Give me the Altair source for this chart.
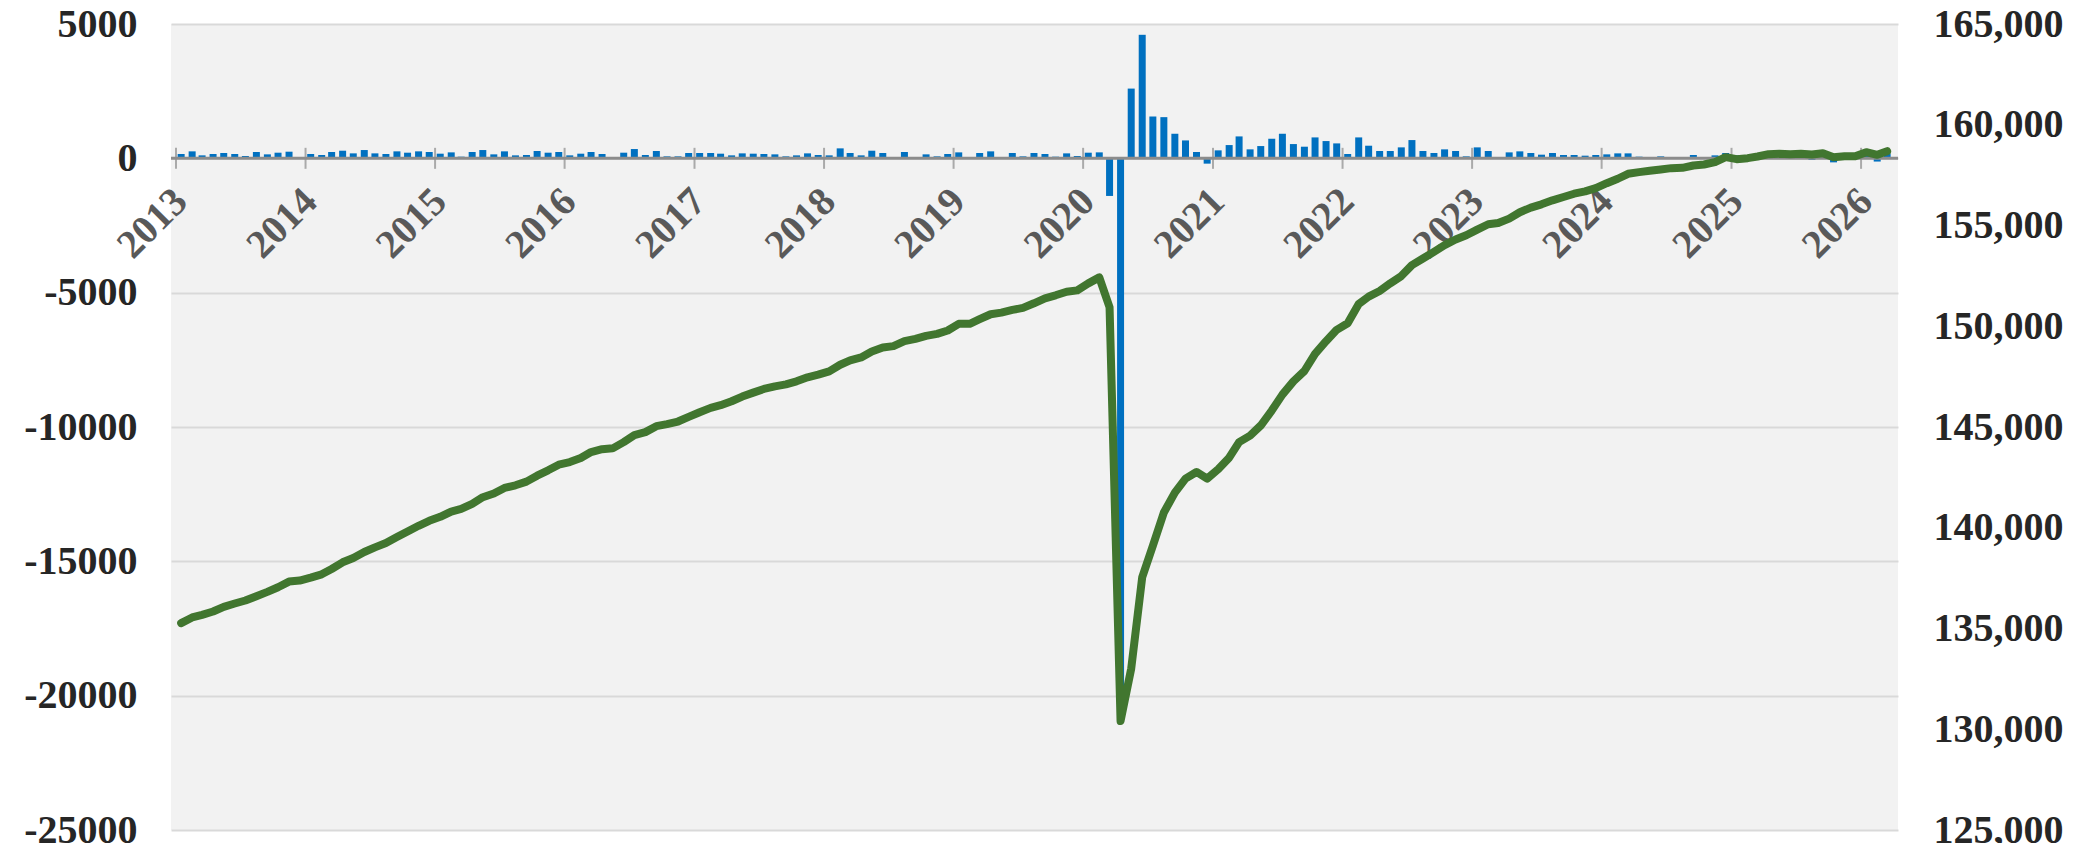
import altair as alt
import pandas as pd

years = list(range(2013, 2027))
month_starts = pd.date_range("2013-01-01", periods=159, freq="MS")
months = (month_starts + pd.Timedelta(days=14)).strftime("%Y-%m-%dT12:00:00Z").tolist()

# monthly change (thousands) - left axis
change = [
    161, 260, 111, 161, 198, 161, 87, 235, 148, 210, 247, 49,          # 2013
    161, 124, 235, 284, 185, 309, 185, 161, 260, 210, 260, 235,        # 2014
    173, 222, 62, 235, 309, 148, 260, 111, 124, 272, 210, 235,         # 2015
    111, 173, 235, 161, 25, 210, 346, 124, 272, 74, 74, 198,           # 2016
    198, 198, 173, 111, 185, 173, 161, 148, 74, 111, 185, 124,         # 2017
    111, 371, 198, 111, 284, 198, 37, 235, 49, 148, 74, 161,           # 2018
    222, 20, 198, 260, 10, 198, 74, 198, 161, 62, 185, 87,             # 2019
    210, 222, -1400, -20500, 2596, 4598, 1557, 1533, 915, 667, 235, -198,  # 2020
    297, 494, 816, 334, 457, 729, 915, 531, 433, 779, 643, 556,        # 2021
    161, 779, 470, 272, 272, 408, 680, 272, 198, 334, 272, 74,         # 2022
    408, 272, 49, 222, 260, 198, 136, 198, 124, 124, 99, 124,          # 2023
    148, 185, 185, 62, 49, 74, 37, 10, 124, 12, 111, 198,              # 2024
    110, 100, 120, 150, 20, -13, 70, -60, 100, -150, 60, 40,           # 2025
    130, -120, 170,                                                    # 2026
]

# employment level (thousands) - right axis
level = [
    135268, 135548, 135680, 135845, 136076, 136240, 136389, 136603, 136817, 137048, 137328, 137378,
    137526, 137690, 137954, 138284, 138498, 138795, 139026, 139240, 139537, 139817, 140097, 140344,
    140542, 140805, 140937, 141185, 141515, 141696, 141976, 142108, 142289, 142586, 142849, 143130,
    143261, 143459, 143756, 143900, 143940, 144250, 144596, 144745, 145041, 145140, 145272, 145503,
    145734, 145948, 146080, 146278, 146508, 146706, 146887, 147019, 147118, 147266, 147464, 147596,
    147761, 148090, 148305, 148453, 148750, 148948, 149014, 149261, 149376, 149524, 149623, 149788,
    150118, 150118, 150348, 150595, 150678, 150810, 150909, 151139, 151386, 151535, 151716, 151780,
    152128, 152425, 150942, 130406, 133010, 137542, 139108, 140757, 141746, 142438, 142768, 142438,
    142900, 143476, 144250, 144570, 145074, 145816, 146607, 147265, 147778, 148634, 149261, 149821,
    150151, 151106, 151469, 151749, 152128, 152491, 153035, 153364, 153694, 154024, 154304, 154518,
    154798, 155062, 155128, 155342, 155656, 155886, 156051, 156249, 156413, 156578, 156694, 156858,
    157100, 157320, 157567, 157650, 157715, 157781, 157847, 157864, 157979, 158029, 158144, 158391,
    158292, 158342, 158424, 158539, 158556, 158539, 158556, 158523, 158589, 158391, 158441, 158441,
    158638, 158506, 158688,
]

year_labels = [str(y) for y in years]
left_ticks = list(range(-25000, 5001, 5000))
right_ticks = list(range(125000, 165001, 5000))

df = pd.DataFrame({"date": months, "change": change, "level": level})
year_df = pd.DataFrame({
    "date": [f"{y}-01-01T00:00:00Z" for y in years],
    "zero": [0] * len(years),
    "label": year_labels,
})
zero_df = pd.DataFrame({"zero": [0]})

FONT = "Liberation Serif"

x_scale = alt.Scale(
    type="utc",
    domain=[alt.DateTime(year=2013, month=1, date=1, utc=True),
            alt.DateTime(year=2026, month=4, date=1, utc=True)],
    nice=False,
)
y_left = alt.Scale(domain=[-25000, 5000], nice=False, zero=False)
y_right = alt.Scale(domain=[125000, 165000], nice=False, zero=False)

left_axis = alt.Axis(
    orient="left", values=left_ticks, grid=True, gridColor="#d9d9d9",
    labelExpr="datum.value < 0 ? '-' + format(abs(datum.value), 'd') : format(datum.value, 'd')",
    gridWidth=2, domain=False, ticks=False, labelFont=FONT, labelFontWeight="bold",
    labelFontSize=40, labelColor="#262626", labelPadding=34, title=None,
)
right_axis = alt.Axis(
    orient="right", values=right_ticks, format=",d", grid=False, domain=False,
    ticks=False, labelFont=FONT, labelFontWeight="bold", labelFontSize=40,
    labelColor="#262626", labelPadding=35, labelAlign="left", title=None,
)

bars = alt.Chart(df).mark_bar(color="#0070c0", width=7).encode(
    x=alt.X("date:T", scale=x_scale, axis=None),
    y=alt.Y("change:Q", scale=y_left, axis=left_axis),
)
zero_rule = alt.Chart(zero_df).mark_rule(color="#8c8c8c", strokeWidth=3).encode(
    y=alt.Y("zero:Q", scale=y_left, axis=left_axis),
)
year_ticks = alt.Chart(year_df).mark_tick(
    orient="vertical", size=21, thickness=2, color="#8c8c8c"
).encode(
    x=alt.X("date:T", scale=x_scale, axis=None),
    y=alt.Y("zero:Q", scale=y_left, axis=left_axis),
)
year_text = alt.Chart(year_df).mark_text(
    angle=315, align="right", baseline="middle", dx=-22.6, dy=29.7,
    font=FONT, fontSize=40, fontWeight="bold", color="#595959",
).encode(
    x=alt.X("date:T", scale=x_scale, axis=None),
    y=alt.Y("zero:Q", scale=y_left, axis=left_axis),
    text="label:N",
)
line = alt.Chart(df).mark_line(
    color="#41762f", strokeWidth=8, strokeCap="round", strokeJoin="round"
).encode(
    x=alt.X("date:T", scale=x_scale, axis=None),
    y=alt.Y("level:Q", scale=y_right, axis=right_axis),
)

left_layer = alt.layer(bars, zero_rule, year_ticks, year_text)
chart = alt.layer(left_layer, line).resolve_scale(y="independent").properties(
    width=1727, height=806,
    padding={"left": 163, "top": 16, "right": 176, "bottom": 13},
    autosize=alt.AutoSizeParams(type="none"),
).configure_view(fill="#f2f2f2", strokeWidth=0)

chart.save("out.html", embed_options={"renderer": "svg", "actions": False})
